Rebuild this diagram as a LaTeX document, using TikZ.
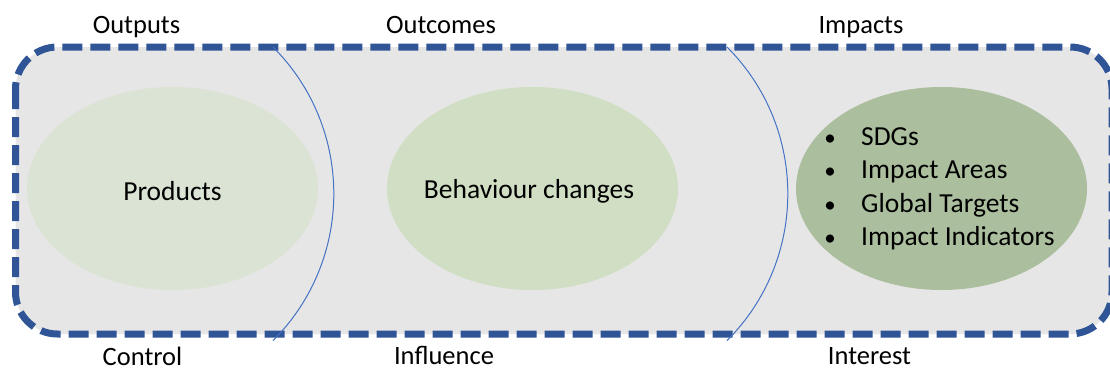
\documentclass[tikz,border=0pt]{standalone}
\usepackage{fontspec}
\setmainfont{Carlito}
\usetikzlibrary{shapes.geometric}
\definecolor{panelfill}{HTML}{E7E6E6}
\definecolor{borderblue}{HTML}{2F5597}
\definecolor{arcblue}{HTML}{4472C4}
\definecolor{prodfill}{HTML}{DAE3D4}
\definecolor{behfill}{HTML}{D0DEC3}
\definecolor{impfill}{HTML}{ABBE9E}
\begin{document}
\begin{tikzpicture}[x=1pt,y=-1pt,
  every node/.style={font=\fontsize{26.5}{32}\selectfont, text=black, inner sep=0pt},
  inner/.style={font=\fontsize{27.5}{33}\selectfont},
  bullet/.style={anchor=base, font=\fontsize{23}{28}\selectfont},
  blob/.style={ellipse, minimum width=291pt, minimum height=203pt, inner sep=0pt},
  lbl/.style={anchor=base},
  lowlbl/.style={anchor=base, text depth=0pt},
  divider/.style={draw=arcblue, line width=1pt},
  border/.style={draw=borderblue, line width=7pt, dash pattern=on 20pt off 8pt, rounded corners=42pt}
]
\useasboundingbox (0,0) rectangle (1110,370);
\fill[white] (0,0) rectangle (1110,370);
% panel
\fill[panelfill, rounded corners=42pt] (15.5,47) rectangle (1112,334);
% ellipses
\node[blob, fill=prodfill] (prod) at (172.5,188.5) {};
\node[blob, fill=behfill] (beh) at (532.5,188.5) {};
\node[blob, fill=impfill] (imp) at (941.5,188.5) {};
% border
\draw[border] (15.5,47) rectangle (1112,334);
% dividers
\draw[divider] (273,47) arc[start angle=-45, end angle=45, radius=207.6];
\draw[divider] (727,47) arc[start angle=-45, end angle=45, radius=207.6];
% ellipse texts
\node[lbl, inner] (tprod) at (172.5,200) {Products};
\node[lbl, inner] (tbeh) at (529,198) {Behaviour changes};
\node[bullet] (b1) at (830,145) {•};
\node[bullet] (b2) at (830,178) {•};
\node[bullet] (b3) at (830,212) {•};
\node[bullet] (b4) at (830,245) {•};
\node[anchor=base west, inner] (i1) at (861,145) {SDGs};
\node[anchor=base west, inner] (i2) at (861,178) {Impact Areas};
\node[anchor=base west, inner] (i3) at (861,212) {Global Targets};
\node[anchor=base west, inner] (i4) at (861,245) {Impact Indicators};
% top labels
\node[lbl] (outputs) at (136.5,33) {Outputs};
\node[lbl] (outcomes) at (441,33) {Outcomes};
\node[lbl] (impacts) at (861,33) {Impacts};
% bottom labels
\node[lowlbl] (control) at (142.5,365) {Control};
\node[lowlbl] (influence) at (444,364) {Influence};
\node[lowlbl] (interest) at (869.5,364) {Interest};
\end{tikzpicture}
\end{document}
